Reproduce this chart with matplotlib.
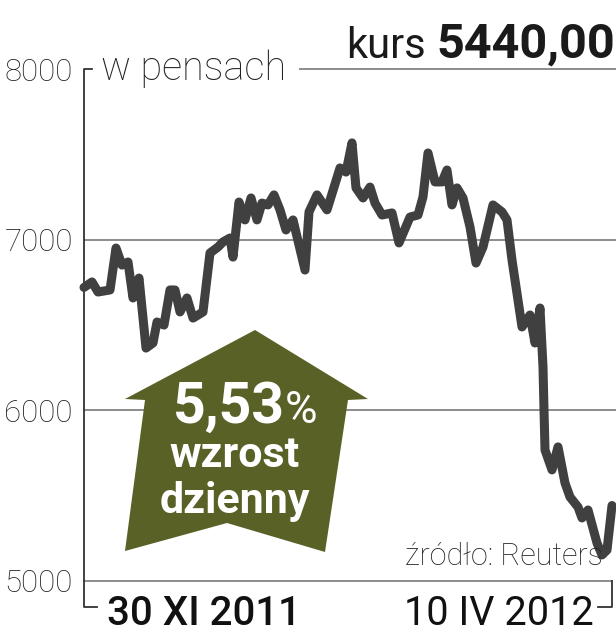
import matplotlib
matplotlib.use("Agg")
import matplotlib.pyplot as plt
from matplotlib.patches import Polygon

# ---- data (days since 30 XI 2011, price in pence) ----
days = [0, 2, 3.5, 6.5, 8, 9.5, 11, 12.25, 13.75, 15.5, 17.25, 18.25, 20, 21.5, 22.75,
        24, 25.75, 27.25, 29.75, 31.5, 33.5, 34.75, 36.5, 37.25, 38.75, 40.25, 41.75,
        43.25, 44.5, 46, 47.5, 49, 50.5, 52.25, 55.25, 56.25, 58.25, 60.75, 64, 65.5,
        67, 68, 69.75, 71.5, 72.75, 74.5, 77, 78.75, 81.5, 83.5, 84.75, 86, 87.75,
        89.5, 90.75, 92, 93.25, 94.75, 96.5, 98, 99.75, 102.25, 104.5, 105.75, 107,
        109.5, 111.5, 112.75, 114, 114.75, 115, 115.25, 117, 118.5, 120.25, 121.5,
        123.5, 124.5, 126, 128.25, 129.5, 130.75, 132]
values = [6720, 6752, 6693, 6705, 6951, 6851, 6869, 6658, 6775, 6364, 6394, 6517, 6499,
          6705, 6705, 6576, 6658, 6540, 6576, 6922, 6957, 6987, 7010, 6898, 7221, 7116,
          7245, 7116, 7215, 7204, 7263, 7175, 7057, 7116, 6822, 7163, 7263, 7175, 7421,
          7397, 7568, 7304, 7245, 7309, 7215, 7145, 7157, 6981, 7133, 7145, 7251, 7509,
          7339, 7339, 7409, 7204, 7304, 7245, 7075, 6863, 6957, 7204, 7163, 7116, 6881,
          6488, 6558, 6394, 6599, 6253, 6001, 5766, 5649, 5784, 5572, 5490, 5431, 5367,
          5414, 5220, 5150, 5179, 5440]
y_ticks = [5000, 6000, 7000, 8000]
y_tick_labels = ["5000", "6000", "7000", "8000"]
x_labels = ["30 XI 2011", "10 IV 2012"]
unit_label = "w pensach"
price_prefix = "kurs"
price_value = "5440,00"
change_value = "5,53"
change_lines = ["wzrost", "dzienny"]
source = "źródło: Reuters"

W, H = 616, 640
fig = plt.figure(figsize=(W / 100, H / 100), dpi=100)
fig.patch.set_facecolor("white")

def fx(x):
    return x / W

def fy(y):
    return 1 - y / H

L, R, T, B = 84, 612, 69.3, 580.5
ax = fig.add_axes([fx(L), fy(B), (R - L) / W, (B - T) / H])
ax.set_xlim(0, 132)
ax.set_ylim(5000, 8000)
for s in ax.spines.values():
    s.set_visible(False)
ax.set_xticks([])
ax.set_yticks(y_ticks)
ax.set_yticklabels(y_tick_labels)
ax.tick_params(axis="y", length=0, pad=8)
for lab in ax.get_yticklabels():
    lab.set_fontfamily(["Roboto", "DejaVu Sans"])
    lab.set_fontweight("light")
    lab.set_fontsize(22.5)
    lab.set_color("#222222")

grid_c = "#8c8c8c"
for v in y_ticks[1:3]:
    ax.plot([0, 1.006], [(v - 5000) / 3000] * 2, transform=ax.transAxes,
            color=grid_c, lw=1.4, clip_on=False, zorder=1)
ax.plot([0, 1], [0, 0], transform=ax.transAxes, color=grid_c, lw=1.4, clip_on=False, zorder=1)
ax.plot([(300 - L) / (R - L), 1.006], [1, 1], transform=ax.transAxes,
        color=grid_c, lw=1.4, clip_on=False, zorder=1)
ext = (607 - B) / (B - T)
ax.plot([(92 - L) / (R - L), 0, 0, (97 - L) / (R - L)], [1, 1, -ext, -ext],
        transform=ax.transAxes, color="#333333", lw=1.3, clip_on=False, zorder=2)
ax.plot([(598 - L) / (R - L), 1, 1], [-ext, -ext, 0], transform=ax.transAxes,
        color="#333333", lw=1.3, clip_on=False, zorder=2)

# arrow
arrow_px = [(255, 330), (368, 399), (348, 400), (325, 552), (227, 523),
            (125, 551), (145, 400), (125, 399)]
arrow_ax = [((x - L) / (R - L), (B - y) / (B - T)) for x, y in arrow_px]
ax.add_patch(Polygon(arrow_ax, closed=True, transform=ax.transAxes,
                     facecolor="#5a6126", edgecolor="none", zorder=3))

# price line
ax.plot(days, values, color="#404040", lw=6.5, solid_joinstyle="round",
        solid_capstyle="round", clip_on=False, zorder=4)

light = ["Roboto", "DejaVu Sans"]
bold = ["Roboto", "DejaVu Sans"]
fig.text(fx(101), fy(80), unit_label, fontsize=28.5, family=light, weight="light",
         color="#222222", ha="left", va="baseline")
fig.text(fx(346), fy(58), price_prefix, fontsize=30, family=light, weight="normal",
         color="#1a1a1a", ha="left", va="baseline")
fig.text(fx(615), fy(58), price_value, fontsize=35, family=bold, weight="bold",
         color="#1a1a1a", ha="right", va="baseline")
fig.text(fx(285), fy(423), change_value, fontsize=41, family=bold, weight="bold",
         color="white", ha="right", va="baseline", zorder=5)
fig.text(fx(285), fy(423), "%", fontsize=32, family=light, weight="normal",
         color="white", ha="left", va="baseline", zorder=5)
fig.text(fx(235), fy(467), change_lines[0], fontsize=31, family=bold, weight="bold",
         color="white", ha="center", va="baseline", zorder=5)
fig.text(fx(235), fy(513), change_lines[1], fontsize=31, family=bold, weight="bold",
         color="white", ha="center", va="baseline", zorder=5)
fig.text(fx(603), fy(565), source, fontsize=22, family=light, weight="light",
         color="#222222", ha="right", va="baseline")
fig.text(fx(107), fy(625), x_labels[0], fontsize=29, family=light, weight="medium",
         color="#111111", ha="left", va="baseline")
fig.text(fx(594), fy(625), x_labels[1], fontsize=28.5, family=light, weight="normal",
         color="#111111", ha="right", va="baseline")

fig.savefig("out.png", dpi=100, facecolor="white")
